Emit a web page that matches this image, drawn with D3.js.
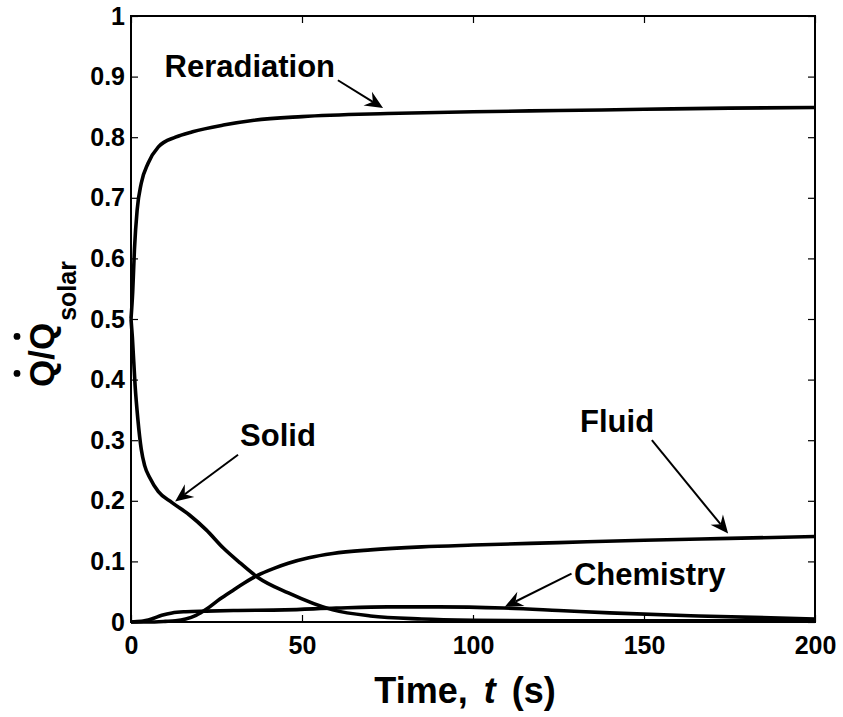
<!DOCTYPE html>
<html>
<head>
<meta charset="utf-8">
<script src="https://cdn.jsdelivr.net/npm/d3@7"></script>
<style>
  html, body { margin: 0; padding: 0; background: #fff; }
  svg { display: block; }
  text { font-family: "Liberation Sans", Arial, Helvetica, sans-serif; font-weight: bold; fill: #000; }
</style>
</head>
<body>
<svg id="chart" width="843" height="717"></svg>
<script>
// Heat-flux fractions vs time
const tRerad = [0, 0.5, 1, 1.8, 3, 5, 8, 13, 18, 27, 36, 50, 75, 100, 125, 150, 175, 200];
const qRerad = [0.50, 0.545, 0.614, 0.68, 0.724, 0.757, 0.784, 0.800, 0.809, 0.820, 0.828, 0.834, 0.839, 0.842, 0.844, 0.846, 0.848, 0.849];

const tSolid = [0, 0.4, 1.2, 2, 3, 4, 5.5, 8, 12, 17, 22, 27, 32, 37, 46, 59, 70, 85, 100, 125, 150, 200];
const qSolid = [0.5, 0.47, 0.39, 0.335, 0.285, 0.258, 0.238, 0.215, 0.197, 0.177, 0.152, 0.122, 0.097, 0.074, 0.048, 0.020, 0.010, 0.005, 0.003, 0.002, 0.002, 0.002];

const tFluid = [0, 5, 10, 13, 16, 19, 22, 26, 30, 33, 37, 42, 46, 52, 59, 70, 85, 100, 125, 150, 175, 200];
const qFluid = [0, 0, 0.001, 0.002, 0.005, 0.011, 0.021, 0.038, 0.053, 0.064, 0.077, 0.089, 0.097, 0.106, 0.113, 0.119, 0.124, 0.127, 0.131, 0.135, 0.138, 0.141];

const tChem = [0, 3, 6, 9, 12, 16, 22, 30, 45, 60, 75, 90, 109, 125, 140, 166, 200];
const qChem = [0, 0.001, 0.005, 0.011, 0.015, 0.017, 0.018, 0.019, 0.020, 0.023, 0.025, 0.025, 0.023, 0.019, 0.015, 0.010, 0.005];

const xTicks = [0, 50, 100, 150, 200];
const yTicks = [0, 0.1, 0.2, 0.3, 0.4, 0.5, 0.6, 0.7, 0.8, 0.9, 1];

// Annotation labels: text, label anchor (data units), arrow tail and tip (data units)
const labelNames = ["Reradiation", "Solid", "Fluid", "Chemistry"];
const labelPos   = [[9.8, 0.900], [31.9, 0.290], [131.3, 0.313], [129.5, 0.061]];
const arrowFrom  = [[60.5, 0.894], [31.3, 0.276], [152.3, 0.300], [128.8, 0.080]];
const arrowTo    = [[73.7, 0.848], [12.9, 0.199], [174.6, 0.146], [109.3, 0.025]];

const svg = d3.select("#chart");
const L = 131, R = 815, T = 16, B = 622;

const x = d3.scaleLinear().domain([0, 200]).range([L, R]);
const y = d3.scaleLinear().domain([0, 1]).range([B, T]);

// axes with inward ticks on all four sides
const tickLen = 7;
const axisFmt = d => Number.isInteger(d) ? String(d) : d3.format(".1f")(d);

const gx = svg.append("g").attr("transform", `translate(0,${B})`)
  .call(d3.axisBottom(x).tickValues(xTicks).tickFormat(axisFmt).tickSizeInner(-tickLen).tickSizeOuter(0).tickPadding(14));
const gy = svg.append("g").attr("transform", `translate(${L},0)`)
  .call(d3.axisLeft(y).tickValues(yTicks).tickFormat(axisFmt).tickSizeInner(-tickLen).tickSizeOuter(0).tickPadding(6));
const gxt = svg.append("g").attr("transform", `translate(0,${T})`)
  .call(d3.axisTop(x).tickValues(xTicks).tickFormat("").tickSizeInner(-tickLen).tickSizeOuter(0));
const gyr = svg.append("g").attr("transform", `translate(${R},0)`)
  .call(d3.axisRight(y).tickValues(yTicks).tickFormat("").tickSizeInner(-tickLen).tickSizeOuter(0));

[gx, gy, gxt, gyr].forEach(g => {
  g.select(".domain").remove();
  g.selectAll(".tick line").attr("stroke", "#000").attr("stroke-width", 1.2);
  g.selectAll(".tick text").style("font-size", "25px").style("font-weight", "bold")
    .style("font-family", '"Liberation Sans", Arial, sans-serif').attr("fill", "#000");
});

// series lines
const line = d3.line().x(d => x(d[0])).y(d => y(d[1])).curve(d3.curveMonotoneX);
const series = [[tRerad, qRerad], [tSolid, qSolid], [tFluid, qFluid], [tChem, qChem]];
series.forEach(([ts, qs]) => {
  svg.append("path")
    .datum(ts.map((t, i) => [t, qs[i]]))
    .attr("d", line)
    .attr("fill", "none")
    .attr("stroke", "#000")
    .attr("stroke-width", 3.6)
    .attr("stroke-linejoin", "round");
});

// frame
svg.append("rect").attr("x", L).attr("y", T).attr("width", R - L).attr("height", B - T)
  .attr("fill", "none").attr("stroke", "#000").attr("stroke-width", 2);

// annotation arrows
function arrow(p0, p1) {
  const x0 = x(p0[0]), y0 = y(p0[1]), x1 = x(p1[0]), y1 = y(p1[1]);
  const ang = Math.atan2(y1 - y0, x1 - x0);
  const hl = 18, hw = 8, notch = 12;
  const g = svg.append("g").attr("transform", `translate(${x1},${y1}) rotate(${ang * 180 / Math.PI})`);
  const len = Math.hypot(x1 - x0, y1 - y0);
  g.append("line").attr("x1", -len).attr("y1", 0).attr("x2", -notch).attr("y2", 0)
    .attr("stroke", "#000").attr("stroke-width", 2);
  g.append("path").attr("d", `M0,0 L${-hl},${-hw} L${-notch},0 L${-hl},${hw} Z`).attr("fill", "#000");
}
labelNames.forEach((name, i) => {
  svg.append("text").attr("x", x(labelPos[i][0])).attr("y", y(labelPos[i][1]))
    .style("font-size", "31px").text(name);
  arrow(arrowFrom[i], arrowTo[i]);
});

// x-axis title
const xt = svg.append("text").attr("x", 465).attr("y", 703)
  .attr("text-anchor", "middle").style("font-size", "36px").style("word-spacing", "6px");
xt.append("tspan").text("Time, ");
xt.append("tspan").style("font-style", "italic").text("t");
xt.append("tspan").text(" (s)");

// y-axis title: Q-dot / Q-dot_solar
const yg = svg.append("g").attr("transform", `translate(54,${(T + B) / 2}) rotate(-90)`);
const yt = yg.append("text").attr("x", -68).attr("y", 0).style("font-size", "35px");
yt.append("tspan").text("Q/Q");
yt.append("tspan").attr("dy", 22).attr("dx", 2).style("font-size", "25px").text("solar");
[0, 2].forEach(ci => {
  const ext = yt.node().getExtentOfChar(ci);
  yg.append("circle").attr("cx", ext.x + ext.width / 2).attr("cy", -37).attr("r", 3.4).attr("fill", "#000");
});
</script>
</body>
</html>
